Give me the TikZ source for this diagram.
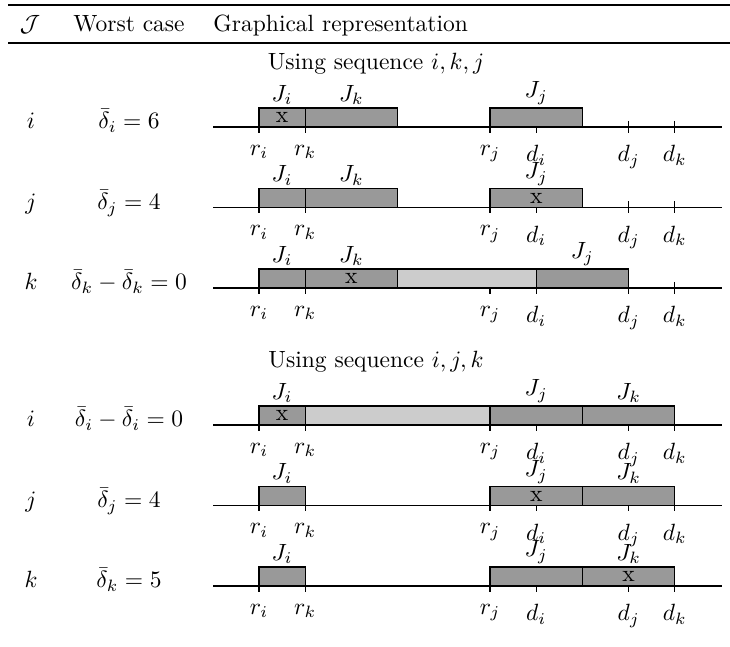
\documentclass[tikz,border=0pt]{standalone}
\usepackage{amsmath}
\definecolor{boxdark}{gray}{0.6}
\definecolor{boxlight}{gray}{0.8}
\tikzset{
  axisln/.style={line width=0.45pt, black},
  tickln/.style={line width=0.45pt, black},
  ticklab/.style={anchor=north, inner sep=3.3pt},
  jlab/.style={anchor=south, inner sep=1.2pt},
  darkbox/.style={draw=black, line width=0.45pt, fill=boxdark},
  lightbox/.style={draw=black, line width=0.45pt, fill=boxlight},
  xmark/.style={inner sep=0pt},
  rowtxt/.style={anchor=base, inner sep=0pt},
}
% axis with ticks and tick labels: #1 axis y (px), #2 row id
\newcommand{\tlaxis}[2]{%
  \draw[axisln] (213,#1) -- (722,#1);
  \foreach \t/\lab/\nm in {0/r_i/ri,1/r_k/rk,5/r_j/rj,6/d_i/di,8/d_j/dj,9/d_k/dk}{
    \draw[tickln] ({259+46.2*\t},{#1-6}) -- ({259+46.2*\t},{#1+6});
    \node[ticklab] (#2-\nm) at ({259+46.2*\t},{#1+10}) {$\lab$};
  }%
}
% job box: #1 from, #2 to, #3 axis y, #4 style
\newcommand{\jb}[4]{%
  \draw[#4] ({259+46.2*#1},#3) rectangle ({259+46.2*#2},{#3-19});
}
% job label: #1 t, #2 axis y, #3 index, #4 name
\newcommand{\jl}[4]{%
  \node[jlab] (#4) at ({259+46.2*#1},{#2-19}) {$J_{#3}$};
}
% x mark: #1 t, #2 axis y, #3 name
\newcommand{\xm}[3]{%
  \node[xmark] (#3) at ({259+46.2*#1},{#2-9.5}) {x};
}
\begin{document}
\begin{tikzpicture}[x=0.4255pt, y=-0.4255pt]
\useasboundingbox (0,0) rectangle (730,647);
% rules
\draw[line width=0.8pt] (8,5) -- (730,5);
\draw[line width=0.5pt] (8,43) -- (730,43);
% header
\node[rowtxt] (hJ) at (30,32) {$\mathcal{J}$};
\node[rowtxt] (hW) at (129,32) {Worst case};
\node[rowtxt, anchor=base west] (hG) at (213,32) {Graphical representation};

% ===== sequence i,k,j =====
\node[rowtxt] (seqA) at (376,70) {Using sequence $i,k,j$};

% row i
\node[rowtxt] (a1c1) at (31,129) {$i$};
\node[rowtxt] (a1c2) at (129,129) {$\bar{\delta}_i = 6$};
\tlaxis{127}{a1}
\jb{0}{1}{127}{darkbox}
\jb{1}{3}{127}{darkbox}
\jb{5}{7}{127}{darkbox}
\xm{0.5}{127}{a1x}
\jl{0.5}{127}{i}{a1Ji}
\jl{2}{127}{k}{a1Jk}
\jl{6}{127}{j}{a1Jj}

% row j
\node[rowtxt] (a2c1) at (31,209.5) {$j$};
\node[rowtxt] (a2c2) at (129,209.5) {$\bar{\delta}_j = 4$};
\tlaxis{207.5}{a2}
\jb{0}{1}{207.5}{darkbox}
\jb{1}{3}{207.5}{darkbox}
\jb{5}{7}{207.5}{darkbox}
\xm{6}{207.5}{a2x}
\jl{0.5}{207.5}{i}{a2Ji}
\jl{2}{207.5}{k}{a2Jk}
\jl{6}{207.5}{j}{a2Jj}

% row k
\node[rowtxt] (a3c1) at (31,290) {$k$};
\node[rowtxt] (a3c2) at (129,290) {$\bar{\delta}_k - \bar{\delta}_k = 0$};
\tlaxis{288}{a3}
\jb{0}{1}{288}{darkbox}
\jb{1}{3}{288}{darkbox}
\jb{3}{6}{288}{lightbox}
\jb{6}{8}{288}{darkbox}
\xm{2}{288}{a3x}
\jl{0.5}{288}{i}{a3Ji}
\jl{2}{288}{k}{a3Jk}
\jl{7}{288}{j}{a3Jj}

% ===== sequence i,j,k =====
\node[rowtxt] (seqB) at (376,368) {Using sequence $i,j,k$};

% row i
\node[rowtxt] (b1c1) at (31,427) {$i$};
\node[rowtxt] (b1c2) at (129,427) {$\bar{\delta}_i - \bar{\delta}_i = 0$};
\tlaxis{425}{b1}
\jb{0}{1}{425}{darkbox}
\jb{1}{5}{425}{lightbox}
\jb{5}{7}{425}{darkbox}
\jb{7}{9}{425}{darkbox}
\xm{0.5}{425}{b1x}
\jl{0.5}{425}{i}{b1Ji}
\jl{6}{425}{j}{b1Jj}
\jl{8}{425}{k}{b1Jk}

% row j
\node[rowtxt] (b2c1) at (31,507.5) {$j$};
\node[rowtxt] (b2c2) at (129,507.5) {$\bar{\delta}_j = 4$};
\tlaxis{505.5}{b2}
\jb{0}{1}{505.5}{darkbox}
\jb{5}{7}{505.5}{darkbox}
\jb{7}{9}{505.5}{darkbox}
\xm{6}{505.5}{b2x}
\jl{0.5}{505.5}{i}{b2Ji}
\jl{6}{505.5}{j}{b2Jj}
\jl{8}{505.5}{k}{b2Jk}

% row k
\node[rowtxt] (b3c1) at (31,588) {$k$};
\node[rowtxt] (b3c2) at (129,588) {$\bar{\delta}_k = 5$};
\tlaxis{586}{b3}
\jb{0}{1}{586}{darkbox}
\jb{5}{7}{586}{darkbox}
\jb{7}{9}{586}{darkbox}
\xm{8}{586}{b3x}
\jl{0.5}{586}{i}{b3Ji}
\jl{6}{586}{j}{b3Jj}
\jl{8}{586}{k}{b3Jk}
\end{tikzpicture}
\end{document}
